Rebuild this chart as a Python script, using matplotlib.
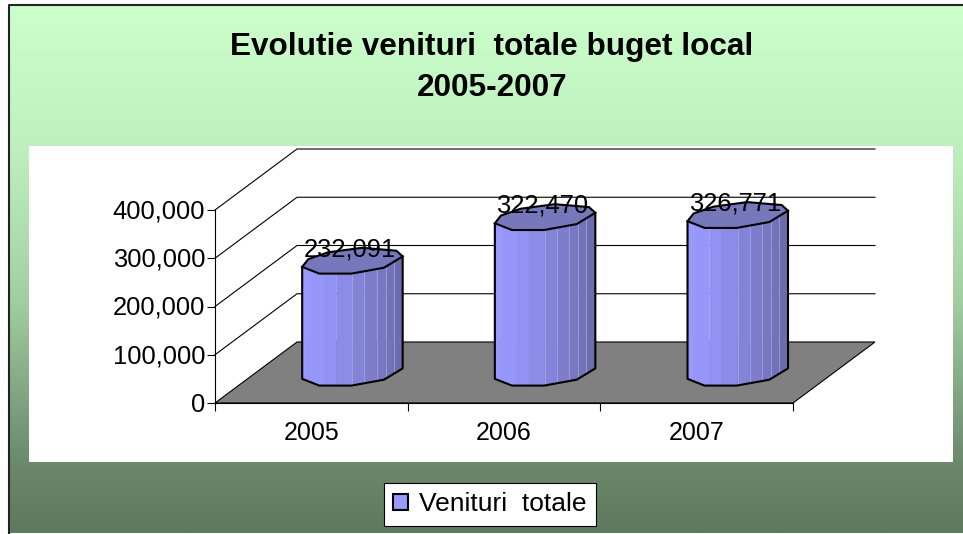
# -*- coding: utf-8 -*-
"""
Evolutie venituri totale buget local, 3D style cylinders drawn on plain axes
"""

import numpy as np
import matplotlib
matplotlib.use('Agg')
import matplotlib.pyplot as plt
from matplotlib.colors import LinearSegmentedColormap
from matplotlib.patches import Patch, Polygon, Rectangle
from matplotlib.ticker import FuncFormatter
from matplotlib.transforms import ScaledTranslation

categories = ['2005', '2006', '2007']
venituri = [232091, 322470, 326771]
y_ticks = [0, 100000, 200000, 300000, 400000]
series_name = 'Venituri  totale'
title = 'Evolutie venituri  totale buget local\n2005-2007'

W, H = 963, 534
plt.rcParams['font.family'] = ['Liberation Sans', 'DejaVu Sans']

# Depth of the fake 3D box, in data units
DX = 82 / 192.67
DY = 61 / 48.25 * 100000
# Cylinder radii, in data units
RU = 47 / 192.67
RV = 0.22

# Polygon angles of the faceted cylinder cross section
front_t = np.radians([206, 250, 290, 330, 380])
back_t = np.radians([50, 100, 140, 172])

strip_edges = [0, 0.057, 0.22, 0.34, 0.5, 0.62, 0.74, 0.83, 0.91, 1]
strip_colors = ['#9999FF', '#9797FB', '#9292F2', '#8C8CE8', '#8383D8',
                '#7D7DCC', '#7777C2', '#7272B8', '#6C6CAE']


def section(cx, base, t):
    x = cx + RU * np.cos(t) + RV * DX * np.sin(t)
    y = base + RV * DY * np.sin(t)
    return x, y


fig = plt.figure(figsize=(W / 100, H / 100), dpi=100)
fig.patch.set_facecolor('white')

# Background: gradient, white panel, frame
bg = fig.add_axes([0, 0, 1, 1], zorder=0)
bg.set_xlim(0, W)
bg.set_ylim(H, 0)
bg.axis('off')
cmap = LinearSegmentedColormap.from_list('bg', [
    (0.0, '#CCFFCC'), (0.27, '#BFEFBF'), (0.55, '#A3D0A3'),
    (0.78, '#7A9C7C'), (0.88, '#6A876A'), (1.0, '#5E7A5E')])
grad = np.linspace(0, 1, 256).reshape(-1, 1)
bg.imshow(grad, cmap=cmap, extent=[9, W, 533, 5], aspect='auto', zorder=1)
bg.set_xlim(0, W)
bg.set_ylim(H, 0)
bg.add_patch(Rectangle((29, 146), 924, 316, fc='white', ec='none', zorder=2))
bg.plot([8.5, 8.5, W], [533, 4.5, 4.5], color='#222222', lw=1.5, zorder=3)
bg.text(492, 67.5, title, ha='center', va='center', fontsize=22.65,
        fontweight='bold', linespacing=1.52, zorder=4)

# Front plane of the chart: x runs per category, y in lei
ax = fig.add_axes([215 / W, 1 - 403 / H, 578 / W, 193 / H], zorder=1)
ax.patch.set_visible(False)
ax.set_xlim(0, len(categories))
ax.set_ylim(0, 400000)
for s in ['top', 'right']:
    ax.spines[s].set_visible(False)
ax.set_yticks(y_ticks)
ax.yaxis.set_major_formatter(FuncFormatter(lambda v, p: f'{int(v):,}'))
ax.set_xticks(np.arange(len(categories) + 1))
ax.set_xticklabels([])
ax.set_xticks(np.arange(len(categories)) + 0.5, categories, minor=True)
ax.tick_params(axis='y', length=6, width=0.8, labelsize=18.4, pad=1)
ax.tick_params(axis='x', which='major', length=5.5, width=0.8)
ax.tick_params(axis='x', which='minor', length=0, labelsize=18, pad=13)
# tick labels sit a little above their ticks in the original
for lab in ax.get_yticklabels():
    lab.set_transform(lab.get_transform() + ScaledTranslation(0, 1.0 / 100, fig.dpi_scale_trans))

n = len(categories)
ax.add_patch(Polygon([(0, 0), (n, 0), (n + DX, DY), (DX, DY)], closed=True,
                     fc='#808080', ec='black', lw=0.8, clip_on=False, zorder=1))
for v in y_ticks[1:]:
    ax.plot([0, DX, n + DX], [v, v + DY, v + DY], color='black', lw=0.8,
            clip_on=False, zorder=1)

for i, val in enumerate(venituri):
    cx = i + 0.5 + DX / 2
    base = DY / 2 - 1000

    fx, fy = section(cx, base, front_t)
    left, right = fx[0], fx[-1]
    for j, col in enumerate(strip_colors):
        x0 = left + strip_edges[j] * (right - left)
        x1 = left + strip_edges[j + 1] * (right - left)
        xs = np.linspace(x0, x1, 10)
        low = np.interp(xs, fx, fy)
        pts = list(zip(xs, low)) + list(zip(xs[::-1], low[::-1] + val))
        ax.add_patch(Polygon(pts, closed=True, fc=col, ec=col, lw=0.3,
                             clip_on=False, zorder=3))
        # light seams between the strips
        if j > 3:
            ax.plot([x0, x0], [np.interp(x0, fx, fy), np.interp(x0, fx, fy) + val],
                    color='#A9A9E6', lw=0.5, clip_on=False, zorder=4)

    ax.plot(np.r_[fx[0], fx, fx[-1]], np.r_[fy[0] + val, fy, fy[-1] + val],
            color='black', lw=1.5, clip_on=False, zorder=5)

    bx, by = section(cx, base + val, back_t)
    tx, ty = section(cx, base + val, front_t)
    ax.add_patch(Polygon(list(zip(np.r_[tx, bx], np.r_[ty, by])), closed=True,
                         fc='#7777BB', ec='black', lw=1.5, clip_on=False, zorder=6))

    ax.annotate(f'{val:,}', xy=(cx, base + val), xytext=(-2, 8.5),
                textcoords='offset points', ha='center', va='center',
                fontsize=18.4, color='black', zorder=7)

leg = bg.legend(handles=[Patch(fc='#9999FF', ec='black', lw=1.5, label=series_name)],
                loc='center', bbox_to_anchor=(490 / W, 1 - 504 / H), fontsize=19,
                frameon=True, fancybox=False, framealpha=1, edgecolor='black',
                handlelength=0.57, handleheight=0.57, handletextpad=0.42,
                borderpad=0.36, borderaxespad=0)
leg.get_frame().set_linewidth(0.8)
leg.set_zorder(10)

fig.savefig('out.png', dpi=100)
